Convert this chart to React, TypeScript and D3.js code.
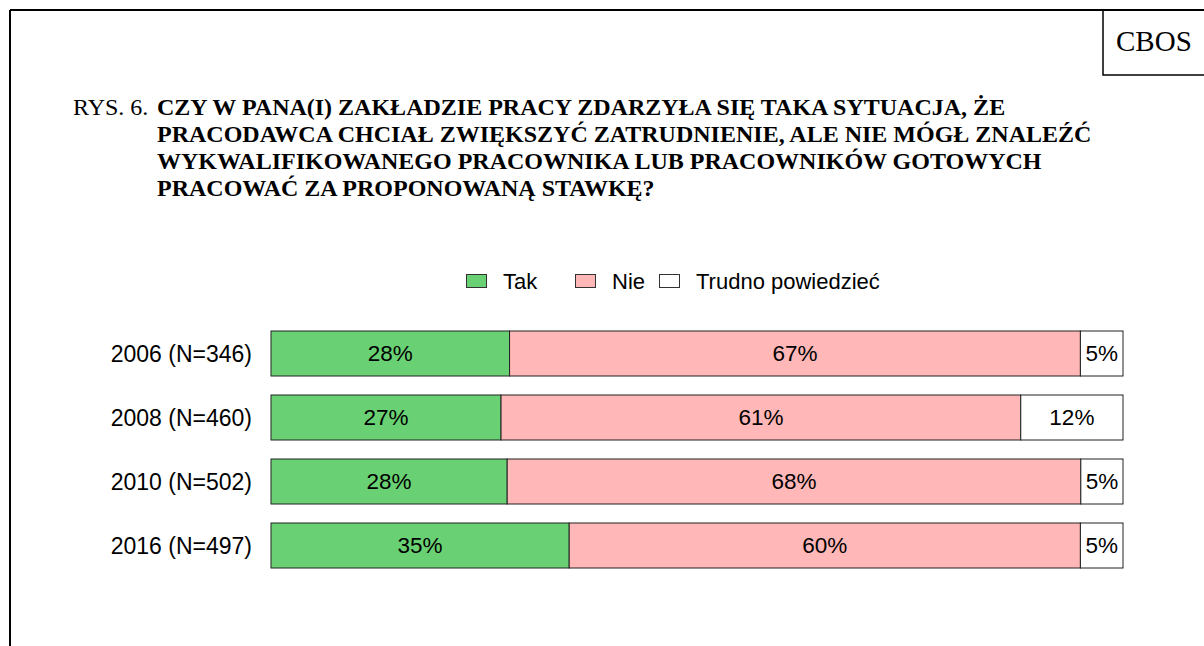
import React from "react";
import * as d3 from "d3";

const categories = ["2006 (N=346)", "2008 (N=460)", "2010 (N=502)", "2016 (N=497)"];
const seriesNames = ["Tak", "Nie", "Trudno powiedzieć"];
const tak = [28, 27, 28, 35];
const nie = [67, 61, 68, 60];
const trudno = [5, 12, 5, 5];
const colors = ["#69d173", "#ffb7b7", "#ffffff"];
const titleLines = [
  "CZY W PANA(I) ZAKŁADZIE PRACY ZDARZYŁA SIĘ TAKA SYTUACJA, ŻE",
  "PRACODAWCA CHCIAŁ ZWIĘKSZYĆ ZATRUDNIENIE, ALE NIE MÓGŁ ZNALEŹĆ",
  "WYKWALIFIKOWANEGO PRACOWNIKA LUB PRACOWNIKÓW GOTOWYCH",
  "PRACOWAĆ ZA PROPONOWANĄ STAWKĘ?",
];

export default function App() {
  const W = 1204, H = 646;
  const x = d3.scaleLinear().domain([0, 100]).range([271, 1123]);
  const y = d3.scaleBand().domain(categories).range([331, 568]).paddingInner(19 / 64).paddingOuter(0);
  const rows = categories.map((c, i) => {
    const vals = [tak[i], nie[i], trudno[i]];
    const total = d3.sum(vals);
    let acc = 0;
    return {
      c,
      segs: vals.map((v, k) => {
        const s = { x0: (acc / total) * 100, x1: ((acc + v) / total) * 100, v, k };
        acc += v;
        return s;
      }),
    };
  });
  const font = "Arial, 'Liberation Sans', sans-serif";
  const serif = "'Times New Roman', 'Liberation Serif', serif";
  const legendX = [466, 575, 659];
  return (
    <svg width={W} height={H} style={{ position: "absolute", left: 0, top: 0, background: "#fff" }}>
      <rect x={0} y={0} width={W} height={H} fill="#fff" />
      <line x1={10} y1={10} x2={W} y2={10} stroke="#000" strokeWidth={2} />
      <line x1={10} y1={10} x2={10} y2={H} stroke="#000" strokeWidth={2} />
      <rect x={1103} y={10} width={150} height={65} fill="none" stroke="#000" strokeWidth={1.5} />
      <text x={1116} y={51} fontFamily={serif} fontSize={29} fill="#000">CBOS</text>
      <text x={73} y={115} fontFamily={serif} fontSize={24} fill="#000">RYS. 6.</text>
      {titleLines.map((t, i) => (
        <text key={i} x={157} y={115 + 27 * i} fontFamily={serif} fontSize={24} fontWeight="bold" fill="#000">{t}</text>
      ))}
      {seriesNames.map((n, k) => (
        <g key={n}>
          <rect x={legendX[k] + 0.5} y={274.5} width={20} height={13} fill={colors[k]} stroke="#333" strokeWidth={1} />
          <text x={legendX[k] + 37} y={281} dy="0.35em" fontFamily={font} fontSize={22} fill="#000">{n}</text>
        </g>
      ))}
      {rows.map((r) => (
        <g key={r.c}>
          <text x={252} y={(y(r.c) as number) + y.bandwidth() / 2} dy="0.35em" textAnchor="end" fontFamily={font} fontSize={23} fill="#000">{r.c}</text>
          {r.segs.map((s) => (
            <g key={s.k}>
              <rect x={x(s.x0)} y={y(r.c) as number} width={x(s.x1) - x(s.x0)} height={y.bandwidth()} fill={colors[s.k]} stroke="#222" strokeWidth={1} />
              <text x={(x(s.x0) + x(s.x1)) / 2} y={(y(r.c) as number) + y.bandwidth() / 2} dy="0.35em" textAnchor="middle" fontFamily={font} fontSize={22.5} fill="#000">{s.v}%</text>
            </g>
          ))}
        </g>
      ))}
    </svg>
  );
}
